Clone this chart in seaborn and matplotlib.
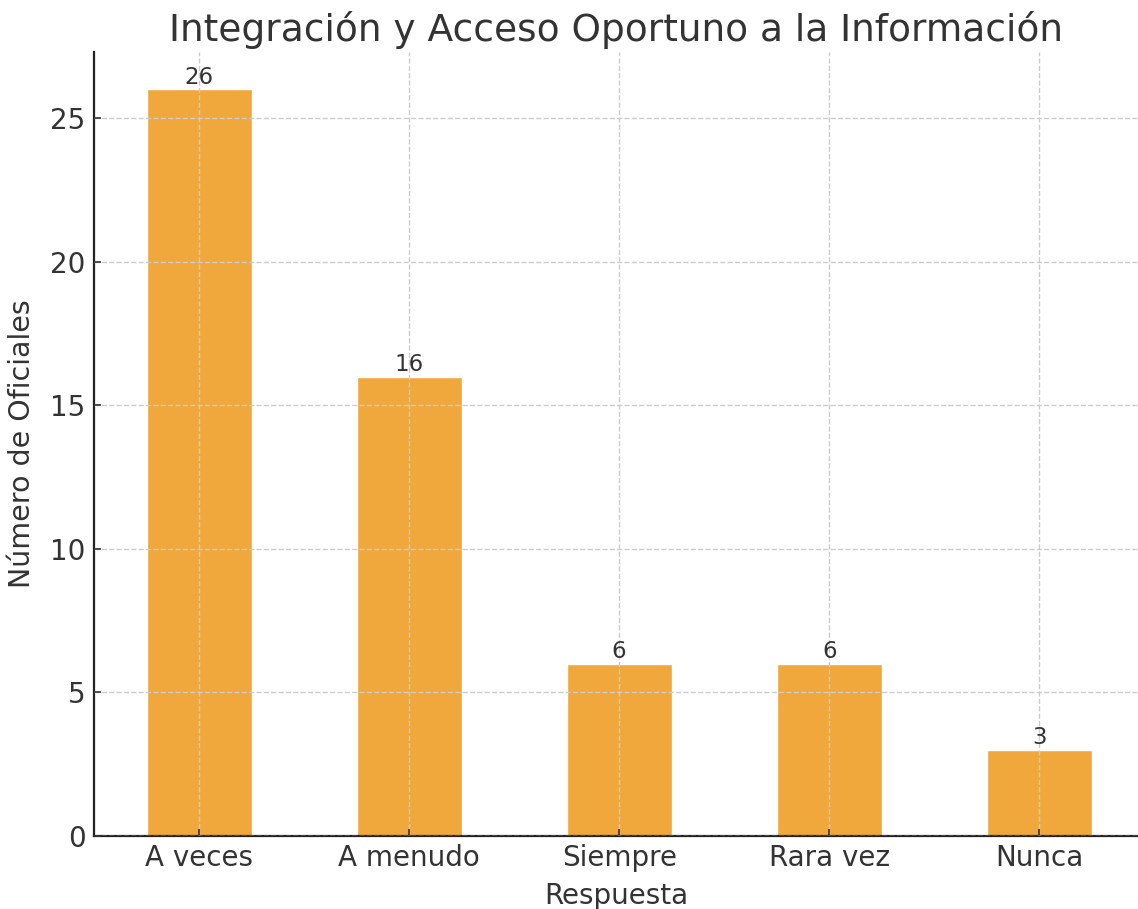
import matplotlib
matplotlib.use("Agg")
import matplotlib.pyplot as plt
import seaborn as sns
import pandas as pd

sns.set_style("ticks")
plt.rcParams["font.family"] = ["DejaVu Sans"]
plt.rcParams["text.color"] = "#333333"
plt.rcParams["axes.labelcolor"] = "#333333"
plt.rcParams["xtick.color"] = "#333333"
plt.rcParams["ytick.color"] = "#333333"

# Data
respuestas = ["A veces", "A menudo", "Siempre", "Rara vez", "Nunca"]
oficiales = [26, 16, 6, 6, 3]

df = pd.DataFrame({"Respuesta": respuestas, "Oficiales": oficiales})

fig = plt.figure(figsize=(11.38, 9.09), dpi=100)
ax = fig.add_axes([0.0826, 0.0803, 0.9174, 0.8625])

sns.barplot(data=df, x="Respuesta", y="Oficiales", color="#F0A83C", saturation=1,
            width=0.5, ax=ax, zorder=2)

# value labels above each bar
for i, v in enumerate(oficiales):
    ax.text(i, v + 0.02, str(v), ha="center", va="bottom", fontsize=16.5, color="#333333")

ax.set_xlim(-0.5, 4.47)
ax.set_ylim(0, 27.3)
ax.set_yticks([0, 5, 10, 15, 20, 25])
ax.grid(True, linestyle="--", color="#cccccc", linewidth=1, zorder=0)
ax.set_axisbelow(False)
for s in ["top", "right"]:
    ax.spines[s].set_visible(False)
for s in ["left", "bottom"]:
    ax.spines[s].set_linewidth(1.6)
    ax.spines[s].set_color("#222222")
ax.tick_params(labelsize=20, length=5, width=1.2, direction="in", pad=6)
ax.set_xlabel("Respuesta", fontsize=20, labelpad=7)
ax.set_ylabel("Número de Oficiales", fontsize=20.5, labelpad=10)
ax.set_title("Integración y Acceso Oportuno a la Información", fontsize=27, pad=8)

fig.savefig("out.png", dpi=100)
